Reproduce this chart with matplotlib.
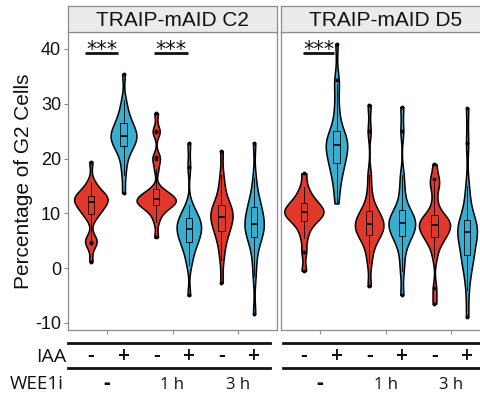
import numpy as np
import matplotlib
matplotlib.use("Agg")
import matplotlib.pyplot as plt
import matplotlib.transforms as mtransforms
from matplotlib.lines import Line2D

plt.rcParams["font.family"] = ["Liberation Sans", "DejaVu Sans"]
plt.rcParams["axes.unicode_minus"] = False

# %% data ----------------------------------------------------------------------
panels = ["TRAIP-mAID C2", "TRAIP-mAID D5"]
wee1i_labels = ["-", "1 h", "3 h"]
iaa_labels = ["-", "+"]
red = "#E0392B"
blue = "#3AAED1"

c2_none_minus = [1.2, 4.5, 4.8, 5.0, 5.2, 9.0, 9.8, 10.1, 10.5, 10.9, 11.3, 11.6, 11.9,
                 12.1, 12.3, 12.5, 12.7, 12.9, 13.1, 13.3, 13.5, 13.8, 14.3, 15.0, 15.7, 19.4]
c2_none_plus = [13.7, 17.0, 19.0, 20.5, 21.5, 22.0, 22.4, 22.8, 23.3, 23.7, 24.0, 24.2,
                24.4, 24.7, 25.1, 25.6, 26.2, 26.6, 27.2, 28.0, 29.2, 30.7, 35.5]
c2_1h_minus = [5.6, 8.5, 9.8, 10.6, 11.0, 11.3, 11.5, 11.8, 12.0, 12.2, 12.3, 12.5, 12.6,
               12.8, 13.0, 13.3, 13.6, 14.0, 14.4, 18.0, 20.0, 20.2, 24.8, 25.1, 28.3]
c2_1h_plus = [-5.0, 0.5, 2.0, 3.2, 4.0, 4.6, 5.0, 5.5, 6.0, 6.5, 6.9, 7.1, 7.4, 7.8, 8.2,
              8.6, 9.0, 9.3, 9.9, 10.6, 11.5, 18.5, 22.8]
c2_3h_minus = [-2.7, 1.5, 3.5, 5.0, 6.0, 6.6, 7.2, 7.8, 8.4, 8.9, 9.2, 9.5, 9.9, 10.3,
               10.8, 11.2, 11.6, 12.3, 13.5, 15.0, 17.0, 21.4]
c2_3h_plus = [-8.3, -1.5, 1.5, 3.5, 5.0, 5.6, 6.2, 6.8, 7.4, 7.8, 8.0, 8.3, 9.0, 9.8,
              10.5, 11.1, 11.6, 12.5, 14.0, 16.5, 22.8]

d5_none_minus = [-0.5, 3.0, 5.5, 7.0, 8.0, 8.6, 9.0, 9.4, 9.7, 10.0, 10.2, 10.4, 10.7,
                 11.0, 11.4, 11.8, 12.2, 12.8, 13.6, 14.8, 17.3]
d5_none_plus = [11.8, 14.0, 15.8, 17.0, 18.0, 18.8, 19.3, 20.0, 20.6, 21.2, 21.8, 22.2,
                22.6, 23.0, 23.4, 23.8, 24.2, 24.6, 26.0, 28.0, 30.0, 33.6, 34.3, 41.0]
d5_1h_minus = [-3.3, 1.0, 3.0, 4.5, 5.3, 5.8, 6.3, 6.8, 7.2, 7.5, 7.7, 8.0, 8.4, 8.8,
               9.3, 9.8, 10.3, 10.6, 12.0, 14.0, 17.0, 25.0, 29.8]
d5_1h_plus = [-4.9, -0.5, 2.0, 4.0, 5.0, 5.7, 6.2, 6.7, 7.1, 7.5, 7.9, 8.2, 8.6, 9.0,
              9.4, 9.8, 10.2, 11.0, 12.5, 14.5, 17.0, 25.0, 29.4]
d5_3h_minus = [-6.5, -3.7, 2.0, 4.0, 5.0, 5.4, 5.8, 6.3, 6.8, 7.2, 7.5, 7.7, 8.0, 8.3,
               8.6, 8.9, 9.1, 9.5, 10.5, 12.5, 15.0, 15.8, 16.3, 19.0]
d5_3h_plus = [-8.9, -4.0, -1.0, 0.5, 1.5, 2.2, 3.0, 4.0, 5.0, 5.8, 6.3, 6.7, 7.1, 7.5,
              7.9, 8.3, 9.0, 10.5, 12.5, 15.0, 22.8, 29.2]

panel_data = [
    [c2_none_minus, c2_none_plus, c2_1h_minus, c2_1h_plus, c2_3h_minus, c2_3h_plus],
    [d5_none_minus, d5_none_plus, d5_1h_minus, d5_1h_plus, d5_3h_minus, d5_3h_plus],
]
# significance bars: (panel, x start, x end)
sig_bars = [(0, 0.66, 1.17), (0, 1.72, 2.24), (1, 0.74, 1.21)]


# %% helpers -------------------------------------------------------------------
def kde(vals, n=512):
    """gaussian kde with bw.nrd0, evaluated over the data range (trimmed violin)"""
    v = np.asarray(vals, float)
    q75, q25 = np.percentile(v, [75, 25])
    bw = 0.9 * min(v.std(ddof=1), (q75 - q25) / 1.34) * len(v) ** -0.2
    y = np.linspace(v.min(), v.max(), n)
    z = (y[:, None] - v[None, :]) / bw
    d = np.exp(-0.5 * z ** 2).sum(1) / (len(v) * bw * np.sqrt(2 * np.pi))
    return y, d


W, H = 480, 396


def fbox(x0, y0, x1, y1):
    return [x0 / W, 1 - y1 / H, (x1 - x0) / W, (y1 - y0) / H]


# %% figure --------------------------------------------------------------------
fig = plt.figure(figsize=(4.8, 3.96), dpi=100)
grey = "#8C8C8C"
ink = "#111111"
lefts = [68, 281]
axes = []
for p in range(2):
    ax = fig.add_axes(fbox(lefts[p], 32, lefts[p] + 209, 330))
    axes.append(ax)
    xs = []
    dens = []
    for g in range(3):
        for k in range(2):
            xs.append(g + 1 + (k - 0.5) * 0.5)
    for vals in panel_data[p]:
        dens.append(kde(vals))
    dmax = max(d.max() for _, d in dens)
    for i, vals in enumerate(panel_data[p]):
        col = red if i % 2 == 0 else blue
        y, d = dens[i]
        half = d / dmax * 0.3
        ax.fill_betweenx(y, xs[i] - half, xs[i] + half, facecolor=col,
                         edgecolor="black", linewidth=1.1, zorder=2)
        ax.boxplot([vals], positions=[xs[i]], widths=0.1, patch_artist=True,
                   showcaps=False, manage_ticks=False,
                   boxprops=dict(facecolor=col, edgecolor="black", linewidth=0.6),
                   medianprops=dict(color="black", linewidth=1.2),
                   whiskerprops=dict(color="black", linewidth=0.6),
                   flierprops=dict(marker="o", markersize=1.8, markerfacecolor="black",
                                   markeredgecolor="black"),
                   zorder=3)
    ax.set_xlim(0.4, 3.6)
    ax.set_ylim(-11.3, 43.1)
    ax.set_xticks([1, 2, 3])
    ax.set_xticklabels([])
    ax.set_yticks([-10, 0, 10, 20, 30, 40])
    for s in ax.spines.values():
        s.set_color(grey)
        s.set_linewidth(0.9)
    ax.tick_params(axis="both", color=grey, length=3, width=0.8,
                   labelsize=13, labelcolor=ink, pad=2)
    if p == 1:
        ax.tick_params(axis="y", left=False, labelleft=False)

    # facet strip
    sax = fig.add_axes(fbox(lefts[p], 6, lefts[p] + 209, 32))
    sax.set_facecolor("#EBEBEB")
    sax.set_xticks([])
    sax.set_yticks([])
    for s in sax.spines.values():
        s.set_color(grey)
        s.set_linewidth(0.9)
    sax.text(0.5, 0.45, panels[p], ha="center", va="center", fontsize=15,
             color=ink, transform=sax.transAxes)

    # IAA / WEE1i table under each panel
    tr = mtransforms.blended_transform_factory(ax.transData, fig.transFigure)
    trx = mtransforms.blended_transform_factory(ax.transAxes, fig.transFigure)
    x_end = 0.967 if p == 0 else 1.2
    x_start = 0.0 if p == 0 else 0.01
    for ypix in (343, 368):
        fig.add_artist(Line2D([x_start, x_end], [1 - ypix / H] * 2, transform=trx,
                              color=ink, linewidth=2.0))
    for i, x in enumerate(xs):
        ax.text(x, 1 - 362 / H, iaa_labels[i % 2], transform=tr, ha="center",
                va="baseline", fontsize=15, fontweight="semibold", family="Open Sans",
                color=ink, clip_on=False)
    for g, lab in enumerate(wee1i_labels):
        if lab == "-":
            ax.text(g + 1, 1 - 389 / H, lab, transform=tr, ha="center", va="baseline",
                    fontsize=15, fontweight="bold", family="Open Sans",
                    color=ink, clip_on=False)
        else:
            ax.text(g + 1, 1 - 389 / H, lab, transform=tr, ha="center", va="baseline",
                    fontsize=12, family="Open Sans", color=ink, clip_on=False)

# significance marks
for p, x0, x1 in sig_bars:
    ax = axes[p]
    ax.plot([x0, x1], [39.2, 39.2], color=ink, linewidth=2.0, zorder=4,
            solid_capstyle="butt")
    ax.text((x0 + x1) / 2, 38.8, "***", ha="center", va="baseline", fontsize=15,
            family="DejaVu Sans", color=ink, zorder=4)

fig.text(24 / W, 1 - 181 / H, "Percentage of G2 Cells", rotation=90, ha="center",
         va="center", fontsize=15, color=ink)
fig.text(66 / W, 1 - 362 / H, "IAA", ha="right", va="baseline", fontsize=14,
         family="Open Sans", color=ink)
fig.text(64 / W, 1 - 389 / H, "WEE1i", ha="right", va="baseline", fontsize=13.5,
         family="Open Sans", color=ink)

fig.savefig("out.png", dpi=100)
